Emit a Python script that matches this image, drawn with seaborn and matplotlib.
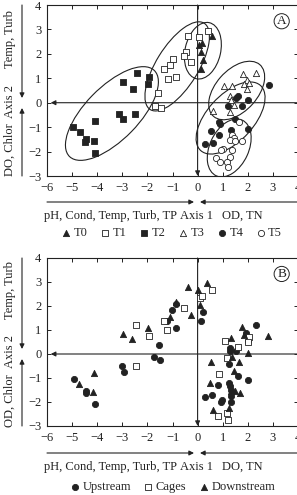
import numpy as np
import pandas as pd
import matplotlib
matplotlib.use("Agg")
import matplotlib.pyplot as plt
import seaborn as sns
from matplotlib.patches import Ellipse, FancyArrowPatch

# ---------------- data ----------------
# Panel A : treatments
t0_x = [0.05, 0.19, 0.12, 0.21, 0.12, 0.57]
t0_y = [2.38, 2.45, 2.07, 1.76, 1.39, 2.72]
t1_x = [-0.37, 0.05, 0.41, -0.47, -0.56, -1.00, -1.09, -1.33, -1.17, -0.85, -0.25, -1.59, -1.71, -1.45]
t1_y = [2.74, 2.69, 2.95, 2.09, 1.92, 1.80, 1.55, 1.39, 0.98, 1.05, 1.65, 0.38, -0.15, -0.22]
t2_x = [-2.40, -2.96, -2.56, -1.92, -1.96, -3.12, -2.96, -2.48, -4.08, -4.96, -4.68, -4.44, -4.48, -4.12, -4.08]
t2_y = [1.22, 0.86, 0.57, 1.06, 0.78, -0.45, -0.65, -0.45, -0.73, -0.98, -1.18, -1.50, -1.59, -1.55, -2.04]
t3_x = [2.32, 1.80, 1.96, 1.84, 2.04, 1.96, 1.04, 1.36, 1.28, 1.32, 1.44, 1.28, 0.60]
t3_y = [1.22, 1.18, 0.94, 0.78, 0.82, 0.57, 0.69, 0.69, 0.29, 0.10, -0.08, -0.37, -0.33]
t4_x = [2.83, 1.59, 1.52, 2.01, 1.20, 1.75, 1.49, 0.85, 0.89, 0.52, 0.85, 1.32, 1.99, 0.29, 0.61]
t4_y = [0.73, 0.26, 0.19, 0.10, -0.15, -0.15, -0.67, -0.80, -0.87, -1.17, -1.31, -1.13, -1.06, -1.71, -1.65]
t5_x = [1.65, 1.39, 1.45, 1.29, 1.48, 1.76, 1.01, 0.92, 1.36, 0.72, 0.89, 1.29, 1.19, 1.23]
t5_y = [-0.80, -1.31, -1.44, -1.54, -1.58, -1.55, -1.88, -1.92, -1.92, -2.26, -2.44, -2.22, -2.44, -2.63]
treat_labels = ["T0", "T1", "T2", "T3", "T4", "T5"]

# Panel B : sites
up_x = [-1.55, -1.75, -1.48, -1.21, -1.01, -0.85, -0.85, 0.12, 0.23, 2.32, 1.92, 1.99, 1.29, 1.29, 1.52,
        -3.01, -2.95, -4.92, -4.44, -4.44, -4.08, 1.25, 0.81, 1.25, 1.29, 1.32, 1.59, 1.99, 0.29, 0.59,
        0.92, 0.99, 1.32, 1.32]
up_y = [0.37, -0.14, -0.25, 1.37, 1.83, 1.09, 2.10, 1.38, 1.76, 1.20, 0.86, 0.54, 0.24, 0.14, 0.14,
        -0.50, -0.73, -1.04, -1.56, -1.63, -2.07, -0.41, -1.29, -1.19, -1.33, -1.52, -0.90, -1.08, -1.80, -1.70,
        -1.98, -1.91, -1.74, -2.02]
cage_x = [-2.44, -1.95, -1.21, -1.33, -0.55, 0.09, 0.19, 0.56, 1.08, 1.59, 2.05, 1.99, 1.19, -2.44, 0.85,
          0.81, 1.16, 1.23]
cage_y = [1.20, 0.75, 1.02, 1.38, 1.90, 2.35, 2.41, 2.68, 0.55, 0.30, 0.72, 0.49, -0.15, -0.50, -0.83,
          -2.57, -2.46, -2.74]
down_x = [-2.97, -2.61, -1.97, -1.11, -0.85, -0.39, -0.25, 0.03, 0.39, 0.09, 1.35, 1.76, 1.85, 2.79, 1.99,
          0.55, 1.65, 1.45, 0.49, 1.35, 1.49, 1.68, 0.61, 1.25, -4.71, -4.11, -4.15, 1.39]
down_y = [0.82, 0.61, 1.07, 1.55, 2.17, 2.79, 1.62, 2.68, 2.97, 2.06, 0.65, 1.11, 0.79, 0.75, 0.05,
          -0.32, -0.32, -0.70, -1.22, -1.54, -1.56, -1.61, -2.32, -2.25, -1.24, -0.78, -1.60, -0.14]
site_labels = ["Upstream", "Cages", "Downstream"]

x_ticks = [-6, -5, -4, -3, -2, -1, 0, 1, 2, 3, 4]
y_ticks = [-3, -2, -1, 0, 1, 2, 3, 4]

# ---------------- style ----------------
sns.set_style("ticks")
plt.rcParams["font.family"] = ["Liberation Serif", "DejaVu Serif"]
plt.rcParams["font.size"] = 9
INK = "#222222"
FS = 9

W, H = 297, 495
fig = plt.figure(figsize=(W / 100, H / 100), dpi=100)


def fx(px):
    return px / W


def fy(py):
    return 1 - py / H


def group_ellipse(ax, x, y, k=1.35, pad=0.5):
    """Ellipse along the principal axes of a group, scaled from its spread plus a margin."""
    x = np.asarray(x)
    y = np.asarray(y)
    cov = np.cov(x, y)
    vals, vecs = np.linalg.eigh(cov)
    order = vals.argsort()[::-1]
    vals, vecs = vals[order], vecs[:, order]
    angle = np.degrees(np.arctan2(vecs[1, 0], vecs[0, 0]))
    a = k * np.sqrt(vals[0]) + pad
    b = k * np.sqrt(vals[1]) + pad
    ell = Ellipse((x.mean(), y.mean()), width=2 * a, height=2 * b, angle=angle,
                  facecolor="none", edgecolor=INK, lw=0.8)
    ax.add_patch(ell)


def make_axes(top_px, bottom_px):
    left, right = 47, 298
    ax = fig.add_axes([fx(left), fy(bottom_px), fx(right) - fx(left), fy(top_px) - fy(bottom_px)])
    ax.set_xlim(-6, 4)
    ax.set_ylim(-3, 4)
    ax.set_xticks(x_ticks)
    ax.set_yticks(y_ticks)
    ax.set_xticklabels([str(v).replace("-", "\u2212") for v in x_ticks])
    ax.set_yticklabels([str(v).replace("-", "\u2212") for v in y_ticks])
    ax.tick_params(direction="in", length=3, width=0.7, top=True, right=True,
                   labelsize=FS, pad=4, colors=INK)
    for s in ax.spines.values():
        s.set_linewidth(0.8)
        s.set_color(INK)
    ax.annotate("", xy=(-5.85, 0), xytext=(4, 0),
                arrowprops=dict(arrowstyle="-|>", color=INK, lw=0.8, mutation_scale=7,
                                shrinkA=0, shrinkB=0))
    ax.annotate("", xy=(0, -3), xytext=(0, 4),
                arrowprops=dict(arrowstyle="-|>", color=INK, lw=0.8, mutation_scale=7,
                                shrinkA=0, shrinkB=0))
    return ax


def outer_arrows(y0_px, bottom_px, top_px, arrow_y_px):
    kw = dict(arrowstyle="-|>", color=INK, lw=0.8, mutation_scale=7, shrinkA=0, shrinkB=0,
              transform=fig.transFigure)
    fig.add_artist(FancyArrowPatch((fx(47), fy(arrow_y_px)), (fx(194), fy(arrow_y_px)), **kw))
    fig.add_artist(FancyArrowPatch((fx(297), fy(arrow_y_px)), (fx(200), fy(arrow_y_px)), **kw))
    fig.add_artist(FancyArrowPatch((fx(22), fy(top_px)), (fx(22), fy(y0_px - 5)), **kw))
    fig.add_artist(FancyArrowPatch((fx(22), fy(bottom_px)), (fx(22), fy(y0_px + 5)), **kw))


def axis_texts(y0_px, text_y_px, right_lab, low_lab):
    fig.text(fx(177), fy(text_y_px), "pH, Cond, Temp, Turb, TP", ha="right", va="center", fontsize=FS, color=INK)
    fig.text(fx(197), fy(text_y_px), "Axis 1", ha="center", va="center", fontsize=FS, color=INK)
    fig.text(fx(222), fy(text_y_px), right_lab, ha="left", va="center", fontsize=FS, color=INK)
    fig.text(fx(10), fy(y0_px - 64), "Temp, Turb", ha="center", va="center", rotation=90, fontsize=FS, color=INK)
    fig.text(fx(10), fy(y0_px - 2), "Axis 2", ha="center", va="center", rotation=90, fontsize=FS, color=INK)
    fig.text(fx(10), fy(y0_px + 47), low_lab, ha="center", va="center", rotation=90, fontsize=FS, color=INK)


def panel_letter(ax, letter):
    ax.text(0.935, 0.905, letter, transform=ax.transAxes, ha="center", va="center", fontsize=9.5,
            color=INK, bbox=dict(boxstyle="circle,pad=0.12", fc="white", ec=INK, lw=0.7))


# ---------------- panel A ----------------
axA = make_axes(5, 176)
groupsA = [(t0_x, t0_y, "^", INK), (t1_x, t1_y, "s", "white"), (t2_x, t2_y, "s", INK),
           (t3_x, t3_y, "^", "white"), (t4_x, t4_y, "o", INK), (t5_x, t5_y, "o", "white")]
for (gx, gy, m, fc), lab in zip(groupsA, treat_labels):
    df = pd.DataFrame({"x": gx, "y": gy})
    sns.scatterplot(data=df, x="x", y="y", marker=m, color=fc, edgecolor=INK, linewidth=0.6,
                    s=20, ax=axA, label=lab, zorder=3)
    group_ellipse(axA, gx, gy)
axA.set_xlabel("")
axA.set_ylabel("")
hA, lA = axA.get_legend_handles_labels()
axA.legend_.remove()
fig.legend(hA, lA, loc="center", bbox_to_anchor=(fx(171), fy(233)), ncol=6, frameon=False,
           handletextpad=0.1, columnspacing=0.9, fontsize=FS, handlelength=1.0,
           borderpad=0, borderaxespad=0)
panel_letter(axA, "A")
outer_arrows(103, 176, 5, 202)
axis_texts(103, 216, "OD, TN", "DO, Chlor")

# ---------------- panel B ----------------
axB = make_axes(258, 426)
groupsB = [(up_x, up_y, "o", INK), (cage_x, cage_y, "s", "white"), (down_x, down_y, "^", INK)]
for (gx, gy, m, fc), lab in zip(groupsB, site_labels):
    df = pd.DataFrame({"x": gx, "y": gy})
    sns.scatterplot(data=df, x="x", y="y", marker=m, color=fc, edgecolor=INK, linewidth=0.6,
                    s=20, ax=axB, label=lab, zorder=3)
axB.set_xlabel("")
axB.set_ylabel("")
hB, lB = axB.get_legend_handles_labels()
axB.legend_.remove()
fig.legend(hB, lB, loc="center", bbox_to_anchor=(fx(172), fy(487)), ncol=3, frameon=False,
           handletextpad=0.1, columnspacing=0.9, fontsize=FS, handlelength=1.0,
           borderpad=0, borderaxespad=0)
panel_letter(axB, "B")
outer_arrows(354, 426, 258, 453)
axis_texts(354, 467, "DO, TN", "OD, Chlor")

fig.savefig("out.png", dpi=100)
